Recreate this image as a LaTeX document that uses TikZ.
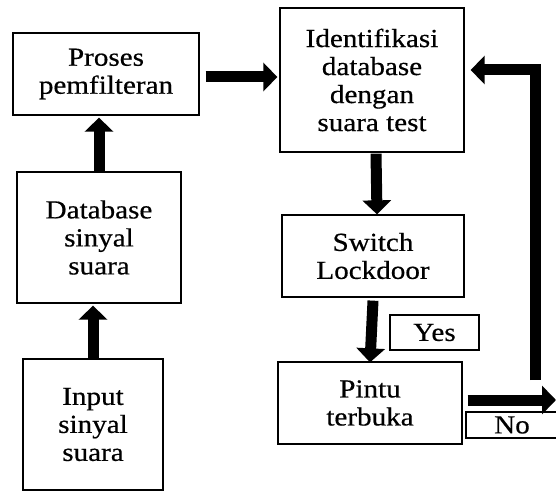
\documentclass[tikz,border=0pt]{standalone}
\usepackage{fontspec}
\setmainfont{Liberation Serif}[FakeStretch=1.12,FakeBold=0.5]
\usetikzlibrary{arrows.meta,positioning}
\tikzset{blok/.style={draw,line width=1.3pt,align=center,font=\fontsize{26}{28}\selectfont,inner sep=0pt}}
\tikzset{tebal/.style={-{Triangle[width=28pt,length=14pt]},line width=11pt,line join=miter}}
\tikzset{label box/.style={draw,line width=1.3pt,font=\fontsize{26}{26}\selectfont,inner sep=0pt}}

\begin{document}
\begin{tikzpicture}[x=1pt,y=-1pt]
\useasboundingbox (0,0) rectangle (556,492);
\node[blok,minimum width=186pt,minimum height=82pt] (proses) at (106,74) {Proses\\pemfilteran};
\node[blok,minimum width=184pt,minimum height=144pt] (ident) at (372,80) {Identifikasi\\database\\dengan\\suara test};
\node[blok,minimum width=164pt,minimum height=131pt] (db) at (99,237.5) {Database\\sinyal\\suara};
\node[blok,minimum width=140pt,minimum height=131pt] (input) at (93,424.5) {Input\\sinyal\\suara};
\node[blok,minimum width=182pt,minimum height=82pt] (switch) at (373,256) {Switch\\Lockdoor};
\node[blok,minimum width=184pt,minimum height=82pt] (pintu) at (370,403) {Pintu\\terbuka};
\node[label box,minimum width=89pt,minimum height=35pt] (yes) at (434.5,332.5) {Yes};
\node[label box,minimum width=92pt,minimum height=26pt] (no) at (512,425) {No};
\coordinate (noend) at (556,400);
\coordinate (balik) at (535,380);

\draw[tebal] ([yshift=-1pt]input.north) -- ([yshift=-2pt]db.south -| input.north);
\draw[tebal] (db.north) -- ([yshift=-2pt]proses.south -| db.north);
\draw[tebal] ([xshift=6pt,yshift=-3pt]proses.east) -- ([xshift=-2pt,yshift=-3pt]ident.west |- proses.east);
\draw[tebal] ([xshift=4pt,yshift=-1pt]ident.south) -- ([xshift=4pt]switch.north);
\draw[tebal] ([yshift=-3pt]switch.south) -- ([yshift=-1pt]pintu.north);
\draw[tebal] ([xshift=5pt,yshift=3pt]pintu.east) -- (noend);
\draw[tebal] (balik) |- ([xshift=6pt,yshift=10pt]ident.east);
\end{tikzpicture}
\end{document}
